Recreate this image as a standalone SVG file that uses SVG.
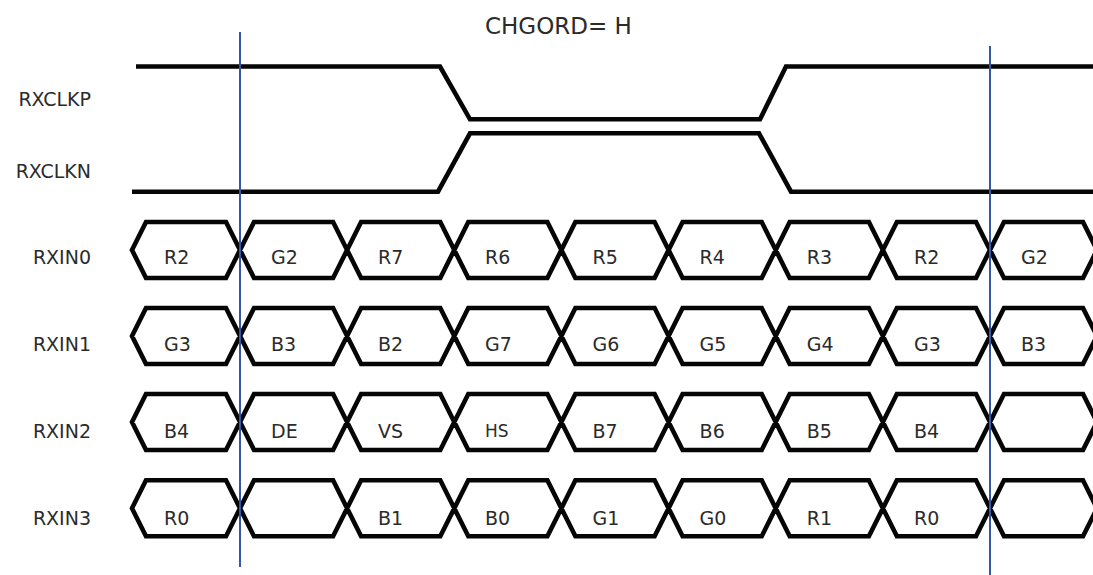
<svg xmlns="http://www.w3.org/2000/svg" width="1093" height="575" viewBox="0 0 1093 575">
<style>
text{font-family:"DejaVu Sans","Liberation Sans",sans-serif;fill:#2b2b2b}
.lbl{font-size:19px;text-anchor:end}
.cell{font-size:19px}
.hs{font-size:17px}
.title{font-size:23px}
.wave{fill:none;stroke:#050505;stroke-width:4.6;stroke-linejoin:miter;stroke-miterlimit:2}
.mark{stroke:#3656a8;stroke-width:2;fill:none}
</style>
<rect width="1093" height="575" fill="#fff"/>
<g id="title"><text class="title" x="485" y="34">CHGORD= H</text></g>

<g id="rxclkp">
<text class="lbl" x="91" y="106">RXCLKP</text>
<polyline class="wave" points="136,66.5 440,66.5 470,119.3 760,119.3 786,66.5 1095,66.5"/>
</g>
<g id="rxclkn">
<text class="lbl" x="91" y="178">RXCLKN</text>
<polyline class="wave" points="132,191.7 438,191.7 470,133.3 759,133.3 791,191.7 1095,191.7"/>
</g>

<defs>
<path id="bus" class="wave" d="M132,0 L146,-28 L226,-28 L254,28 L333.1,28 L361.1,-28 L440.3,-28 L468.3,28 L547.4,28 L575.4,-28 L654.6,-28 L682.6,28 L761.7,28 L789.7,-28 L868.9,-28 L896.9,28 L976,28 L1004,-28 L1083,-28 L1097,0 L1083,28 L1004,28 L976,-28 L896.9,-28 L868.9,28 L789.7,28 L761.7,-28 L682.6,-28 L654.6,28 L575.4,28 L547.4,-28 L468.3,-28 L440.3,28 L361.1,28 L333.1,-28 L254,-28 L226,28 L146,28 Z"/>
</defs>

<g id="rxin0">
<text class="lbl" x="91" y="264">RXIN0</text>
<use href="#bus" transform="translate(0,250)"/>
<text class="cell" x="164" y="264">R2</text>
<text class="cell" x="271" y="264">G2</text>
<text class="cell" x="378" y="264">R7</text>
<text class="cell" x="485" y="264">R6</text>
<text class="cell" x="592.5" y="264">R5</text>
<text class="cell" x="699.6" y="264">R4</text>
<text class="cell" x="806.7" y="264">R3</text>
<text class="cell" x="914" y="264">R2</text>
<text class="cell" x="1021" y="264">G2</text>
</g>
<g id="rxin1">
<text class="lbl" x="91" y="350.5">RXIN1</text>
<use href="#bus" transform="translate(0,336)"/>
<text class="cell" x="164" y="350.5">G3</text>
<text class="cell" x="271" y="350.5">B3</text>
<text class="cell" x="378" y="350.5">B2</text>
<text class="cell" x="485" y="350.5">G7</text>
<text class="cell" x="592.5" y="350.5">G6</text>
<text class="cell" x="699.6" y="350.5">G5</text>
<text class="cell" x="806.7" y="350.5">G4</text>
<text class="cell" x="914" y="350.5">G3</text>
<text class="cell" x="1021" y="350.5">B3</text>
</g>
<g id="rxin2">
<text class="lbl" x="91" y="438">RXIN2</text>
<use href="#bus" transform="translate(0,422)"/>
<text class="cell" x="164" y="438">B4</text>
<text class="cell" x="271" y="438">DE</text>
<text class="cell" x="378" y="438">VS</text>
<text class="cell hs" x="485" y="437">HS</text>
<text class="cell" x="592.5" y="438">B7</text>
<text class="cell" x="699.6" y="438">B6</text>
<text class="cell" x="806.7" y="438">B5</text>
<text class="cell" x="914" y="438">B4</text>
</g>
<g id="rxin3">
<text class="lbl" x="91" y="525">RXIN3</text>
<use href="#bus" transform="translate(0,508.3)"/>
<text class="cell" x="164" y="525">R0</text>
<text class="cell" x="378" y="525">B1</text>
<text class="cell" x="485" y="525">B0</text>
<text class="cell" x="592.5" y="525">G1</text>
<text class="cell" x="699.6" y="525">G0</text>
<text class="cell" x="806.7" y="525">R1</text>
<text class="cell" x="914" y="525">R0</text>
</g>

<g id="connectors">
<line class="mark" x1="240" y1="32" x2="240" y2="567"/>
<line class="mark" x1="990" y1="46" x2="990" y2="575"/>
</g>
</svg>
